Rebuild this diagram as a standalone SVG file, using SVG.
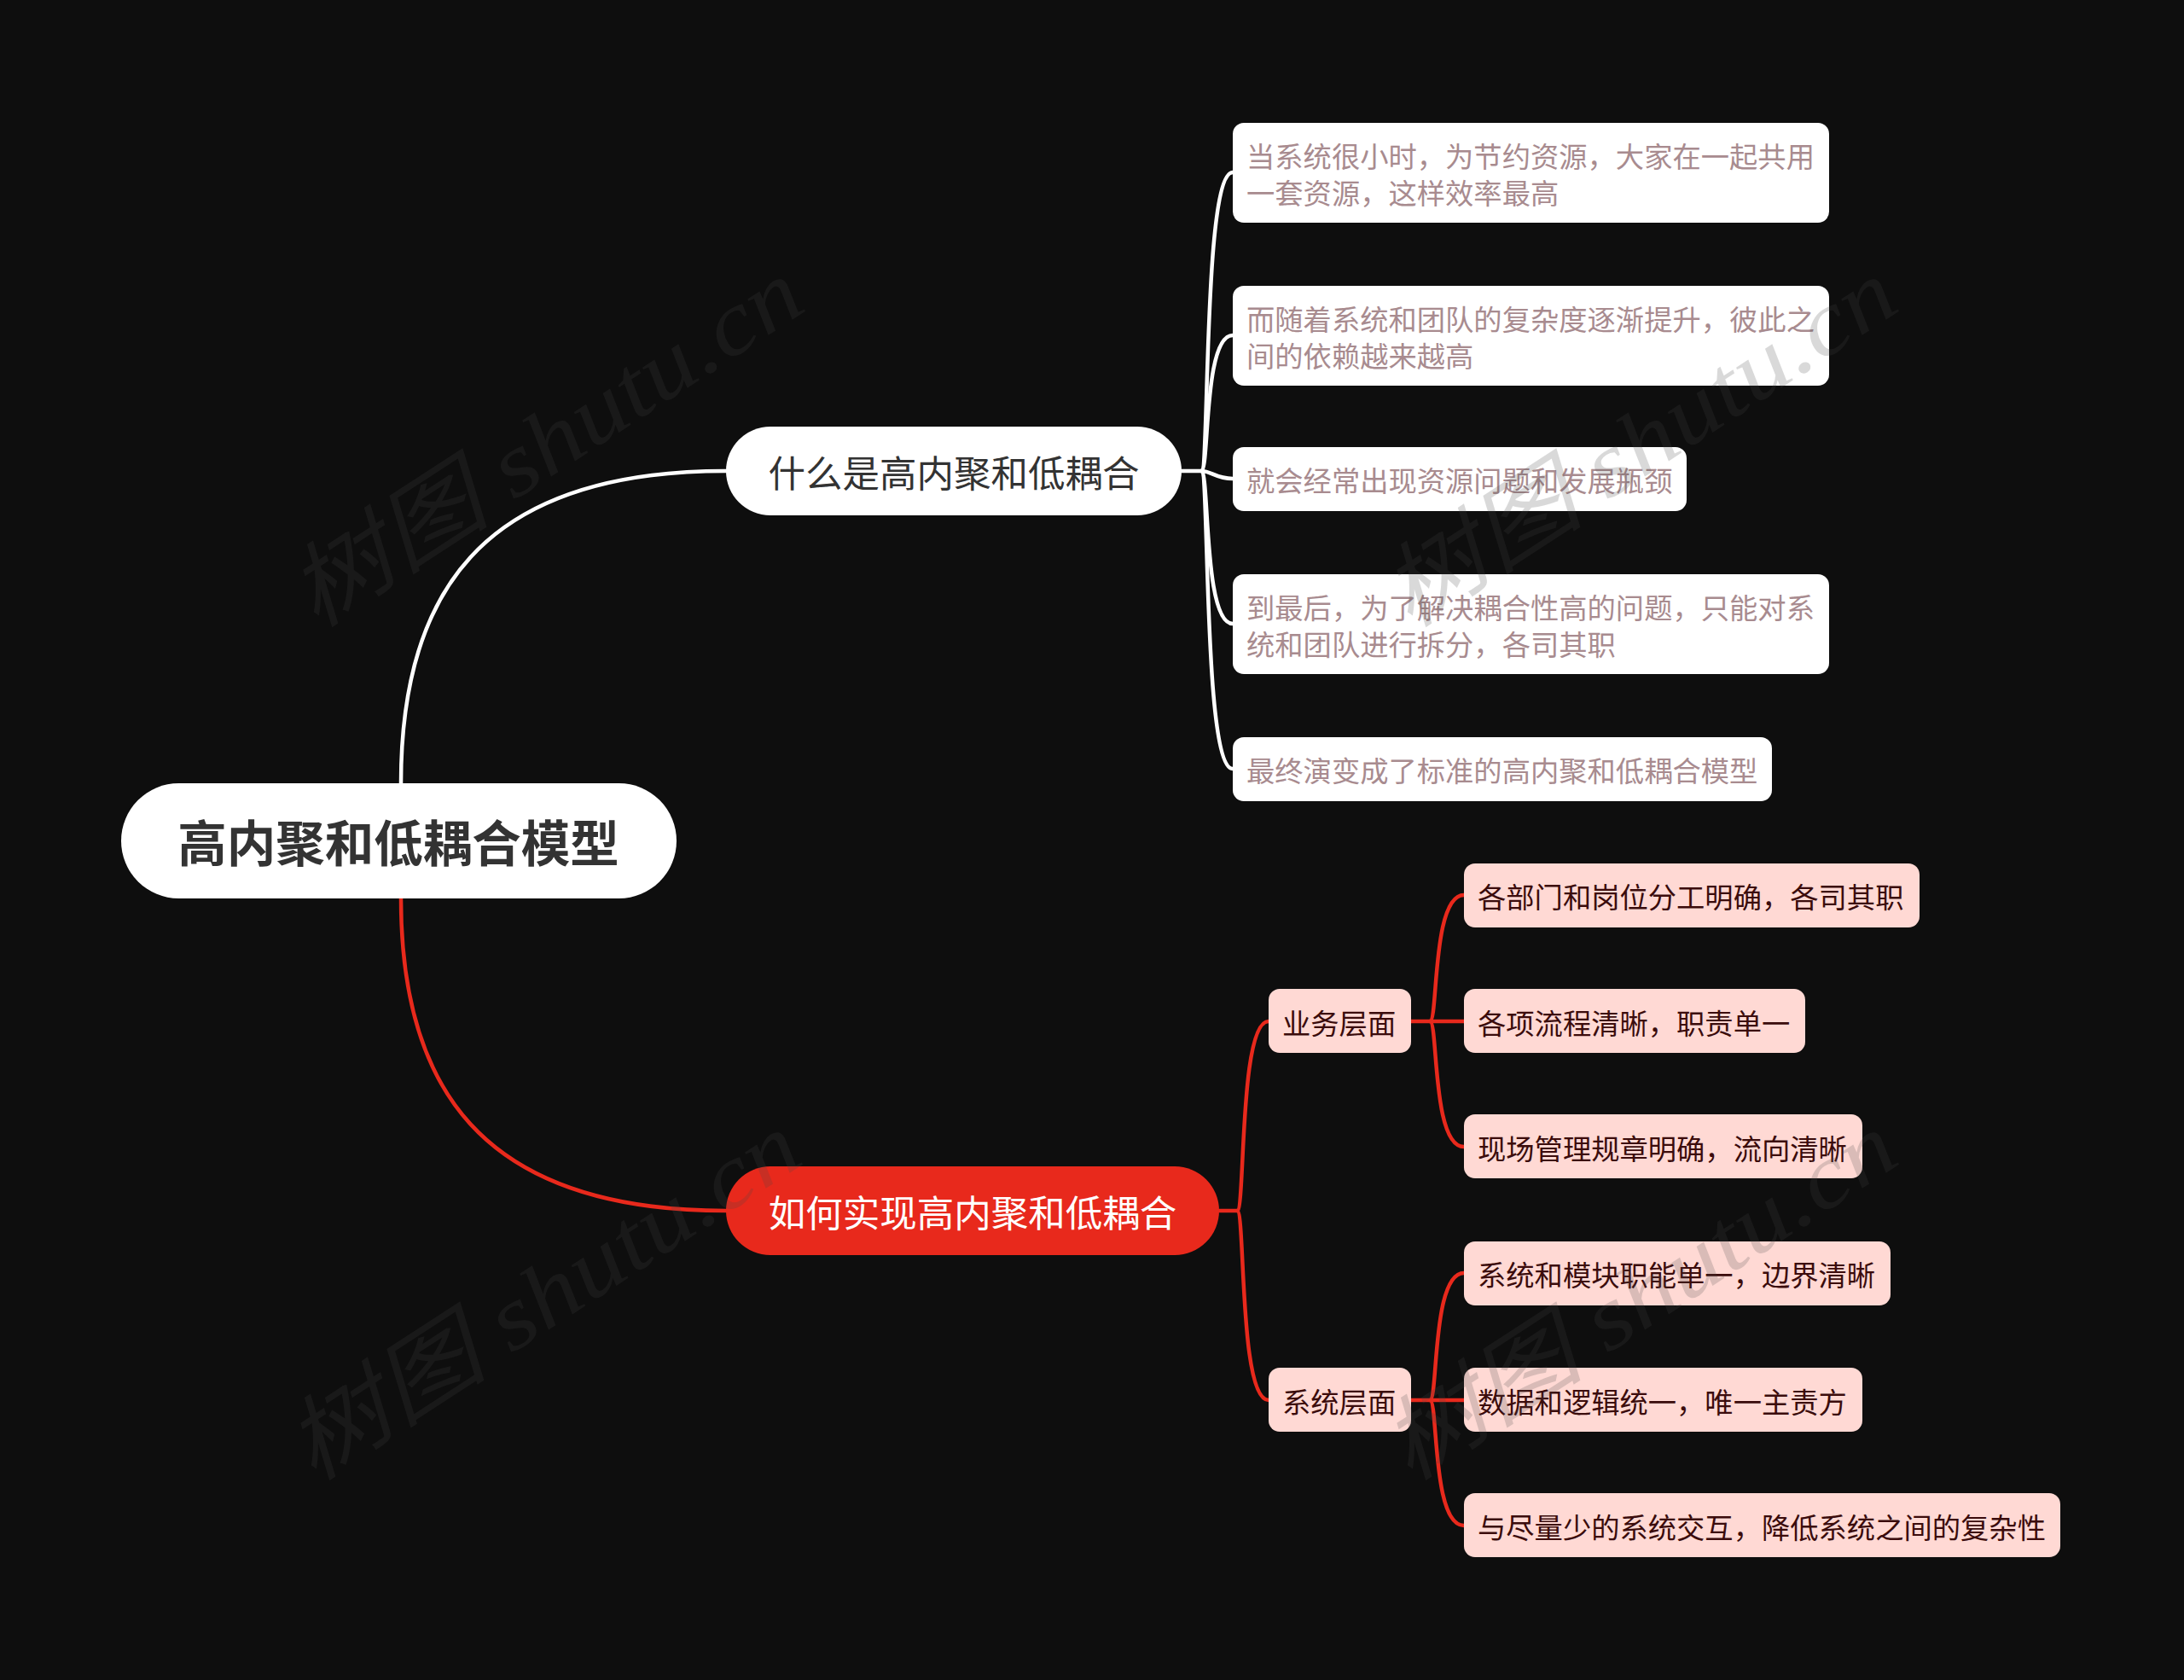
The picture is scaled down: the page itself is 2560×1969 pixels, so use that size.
<svg xmlns="http://www.w3.org/2000/svg" width="2560" height="1969" viewBox="0 0 2560 1969">
<style>
.bg{fill:#0E0E0E}
.lw{fill:none;stroke:#FFFFFF;stroke-width:4.5;stroke-linecap:round}
.lr{fill:none;stroke:#E8291C;stroke-width:4.5;stroke-linecap:round}
.t{font-family:"Noto Sans CJK SC","Noto Sans",sans-serif;dominant-baseline:central}
.root{font-size:57.5px;font-weight:bold;fill:#333333}
.main{font-size:43.5px;fill:#333333}
.mainr{font-size:43.5px;fill:#FFFFFF}
.leaf{font-size:33.3px;fill:#A88B8F}
.pink{font-size:33.3px;fill:#3B0C0C}
.wbox{fill:#FFFFFF}
.pbox{fill:#FFD9D4}
.wm{font-family:"Liberation Serif","Noto Sans CJK SC",serif;font-style:italic;font-size:106px;fill:#474747;opacity:0.2}
</style>
<rect class="bg" x="0" y="0" width="2560" height="1969"/>
<g id="connectors">
  <path class="lw" d="M470 918 C470 700 560 552 851 552"/>
  <path class="lr" d="M470 1053 C470 1270 560 1419 851 1419"/>
  <path class="lw" d="M1385 552 L1408 552 C1418 552 1410 202 1445 202"/>
  <path class="lw" d="M1408 552 C1418 552 1410 393 1445 393"/>
  <path class="lw" d="M1408 552 C1420 552 1425 561 1445 561"/>
  <path class="lw" d="M1408 552 C1418 552 1410 731 1445 731"/>
  <path class="lw" d="M1408 552 C1418 552 1410 901 1445 901"/>
  <path class="lr" d="M1429 1419 L1450 1419 C1460 1419 1452 1197 1487 1197"/>
  <path class="lr" d="M1450 1419 C1460 1419 1452 1641 1487 1641"/>
  <path class="lr" d="M1654 1197 L1716 1197"/>
  <path class="lr" d="M1676 1197 C1686 1197 1678 1049 1716 1049"/>
  <path class="lr" d="M1676 1197 C1686 1197 1678 1344 1716 1344"/>
  <path class="lr" d="M1654 1641 L1716 1641"/>
  <path class="lr" d="M1676 1641 C1686 1641 1678 1492 1716 1492"/>
  <path class="lr" d="M1676 1641 C1686 1641 1678 1788 1716 1788"/>
</g>
<g id="root">
  <rect class="wbox" x="142" y="918" width="651" height="135" rx="67.5"/>
  <text class="t root" x="467" y="985" text-anchor="middle">高内聚和低耦合模型</text>
</g>
<g id="n1">
  <rect class="wbox" x="851" y="500" width="534" height="104" rx="52"/>
  <text class="t main" x="1118" y="552" text-anchor="middle">什么是高内聚和低耦合</text>
</g>
<g id="n2">
  <rect x="851" y="1367" width="578" height="104" rx="52" fill="#E8291C"/>
  <text class="t mainr" x="1140" y="1419" text-anchor="middle">如何实现高内聚和低耦合</text>
</g>
<g id="w1">
  <rect class="wbox" x="1445" y="144" width="699" height="117" rx="13"/>
  <text class="t leaf" x="1461" y="181">当系统很小时，为节约资源，大家在一起共用</text>
  <text class="t leaf" x="1461" y="224">一套资源，这样效率最高</text>
</g>
<g id="w2">
  <rect class="wbox" x="1445" y="335" width="699" height="117" rx="13"/>
  <text class="t leaf" x="1461" y="372">而随着系统和团队的复杂度逐渐提升，彼此之</text>
  <text class="t leaf" x="1461" y="415">间的依赖越来越高</text>
</g>
<g id="w3">
  <rect class="wbox" x="1445" y="524" width="532" height="75" rx="13"/>
  <text class="t leaf" x="1461" y="561">就会经常出现资源问题和发展瓶颈</text>
</g>
<g id="w4">
  <rect class="wbox" x="1445" y="673" width="699" height="117" rx="13"/>
  <text class="t leaf" x="1461" y="710">到最后，为了解决耦合性高的问题，只能对系</text>
  <text class="t leaf" x="1461" y="753">统和团队进行拆分，各司其职</text>
</g>
<g id="w5">
  <rect class="wbox" x="1445" y="864" width="632" height="75" rx="13"/>
  <text class="t leaf" x="1461" y="901">最终演变成了标准的高内聚和低耦合模型</text>
</g>
<g id="p1">
  <rect class="pbox" x="1487" y="1159" width="167" height="75" rx="13"/>
  <text class="t pink" x="1503" y="1197">业务层面</text>
</g>
<g id="p2">
  <rect class="pbox" x="1487" y="1603" width="167" height="75" rx="13"/>
  <text class="t pink" x="1503" y="1641">系统层面</text>
</g>
<g id="g1">
  <rect class="pbox" x="1716" y="1012" width="534" height="75" rx="13"/>
  <text class="t pink" x="1732" y="1049">各部门和岗位分工明确，各司其职</text>
</g>
<g id="g2">
  <rect class="pbox" x="1716" y="1159" width="400" height="75" rx="13"/>
  <text class="t pink" x="1732" y="1197">各项流程清晰，职责单一</text>
</g>
<g id="g3">
  <rect class="pbox" x="1716" y="1306" width="467" height="75" rx="13"/>
  <text class="t pink" x="1732" y="1344">现场管理规章明确，流向清晰</text>
</g>
<g id="s1">
  <rect class="pbox" x="1716" y="1455" width="500" height="75" rx="13"/>
  <text class="t pink" x="1732" y="1492">系统和模块职能单一，边界清晰</text>
</g>
<g id="s2">
  <rect class="pbox" x="1716" y="1603" width="467" height="75" rx="13"/>
  <text class="t pink" x="1732" y="1641">数据和逻辑统一，唯一主责方</text>
</g>
<g id="s3">
  <rect class="pbox" x="1716" y="1750" width="699" height="75" rx="13"/>
  <text class="t pink" x="1732" y="1788">与尽量少的系统交互，降低系统之间的复杂性</text>
</g>
<g id="watermark">
  <text class="wm" transform="translate(640 520) rotate(-33)" text-anchor="middle" dominant-baseline="central" textLength="690" lengthAdjust="spacingAndGlyphs">树图 shutu.cn</text>
  <text class="wm" transform="translate(1922 520) rotate(-33)" text-anchor="middle" dominant-baseline="central" textLength="690" lengthAdjust="spacingAndGlyphs">树图 shutu.cn</text>
  <text class="wm" transform="translate(637 1520) rotate(-33)" text-anchor="middle" dominant-baseline="central" textLength="690" lengthAdjust="spacingAndGlyphs">树图 shutu.cn</text>
  <text class="wm" transform="translate(1922 1520) rotate(-33)" text-anchor="middle" dominant-baseline="central" textLength="690" lengthAdjust="spacingAndGlyphs">树图 shutu.cn</text>
</g>
</svg>
